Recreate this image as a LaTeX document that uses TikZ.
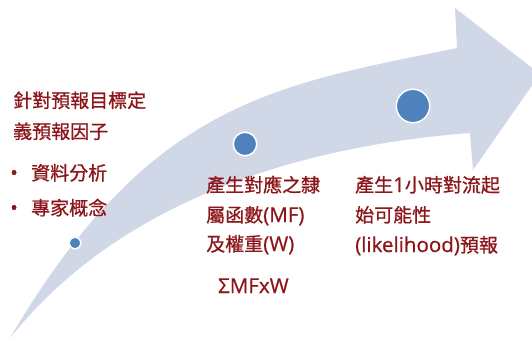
\documentclass[tikz,border=0pt]{standalone}
\usepackage{fontspec}
\setmainfont{Open Sans}[Scale=1.08,FakeBold=0.6]
\newfontfamily\cjk{Noto Sans CJK TC}[FakeBold=0.8]
\definecolor{band}{RGB}{208,216,232}
\definecolor{dotblue}{RGB}{79,129,189}
\definecolor{txtred}{RGB}{140,22,26}
\begin{document}
\begin{tikzpicture}[x=1pt,y=-1pt,
  lbl/.style={anchor=base west, inner sep=0pt, text=txtred, font=\fontsize{19}{23}\selectfont},
  dotc/.style={circle, fill=dotblue, draw=white, line width=1.5pt, inner sep=0pt}]
\useasboundingbox (0,0) rectangle (532,339);
\fill[white] (0,0) rectangle (532,339);
\begin{scope}
\clip (0,0) rectangle (532,339);
\fill[band] (10,338) .. controls (150,100) and (277,85) .. (457,48) -- (455,8) -- (540,74) -- (473,170) -- (470,133) .. controls (300,146) and (120,200) .. (10,338) -- cycle;
\end{scope}
\node[dotc, minimum size=11.5pt] (d1) at (75,243) {};
\node[dotc, minimum size=23.5pt] (d2) at (245,144) {};
\node[dotc, minimum size=33.5pt] (d3) at (413,106) {};
\node[lbl] (a1) at (13,107.5) {\cjk 針對預報目標定};
\node[lbl] (a2) at (13,138.5) {\cjk 義預報因子};
\node[lbl] (b1) at (10,180) {•};
\node[lbl] (a3) at (31,180) {\cjk 資料分析};
\node[lbl] (b2) at (10,215) {•};
\node[lbl] (a4) at (31,215) {\cjk 專家概念};
\node[lbl] (m1) at (206,192) {\cjk 產生對應之隸};
\node[lbl] (m2) at (206,222) {{\cjk 屬函數}(MF)};
\node[lbl] (m3) at (206,251) {{\cjk 及權重}(W)};
\node[lbl] (m4) at (218,293) {ΣMFxW};
\node[lbl] (r1) at (355,192) {{\cjk 產生}1{\cjk 小時對流起}};
\node[lbl] (r2) at (355,222) {\cjk 始可能性};
\node[lbl] (r3) at (355,252) {(likelihood){\cjk 預報}};
\end{tikzpicture}
\end{document}
